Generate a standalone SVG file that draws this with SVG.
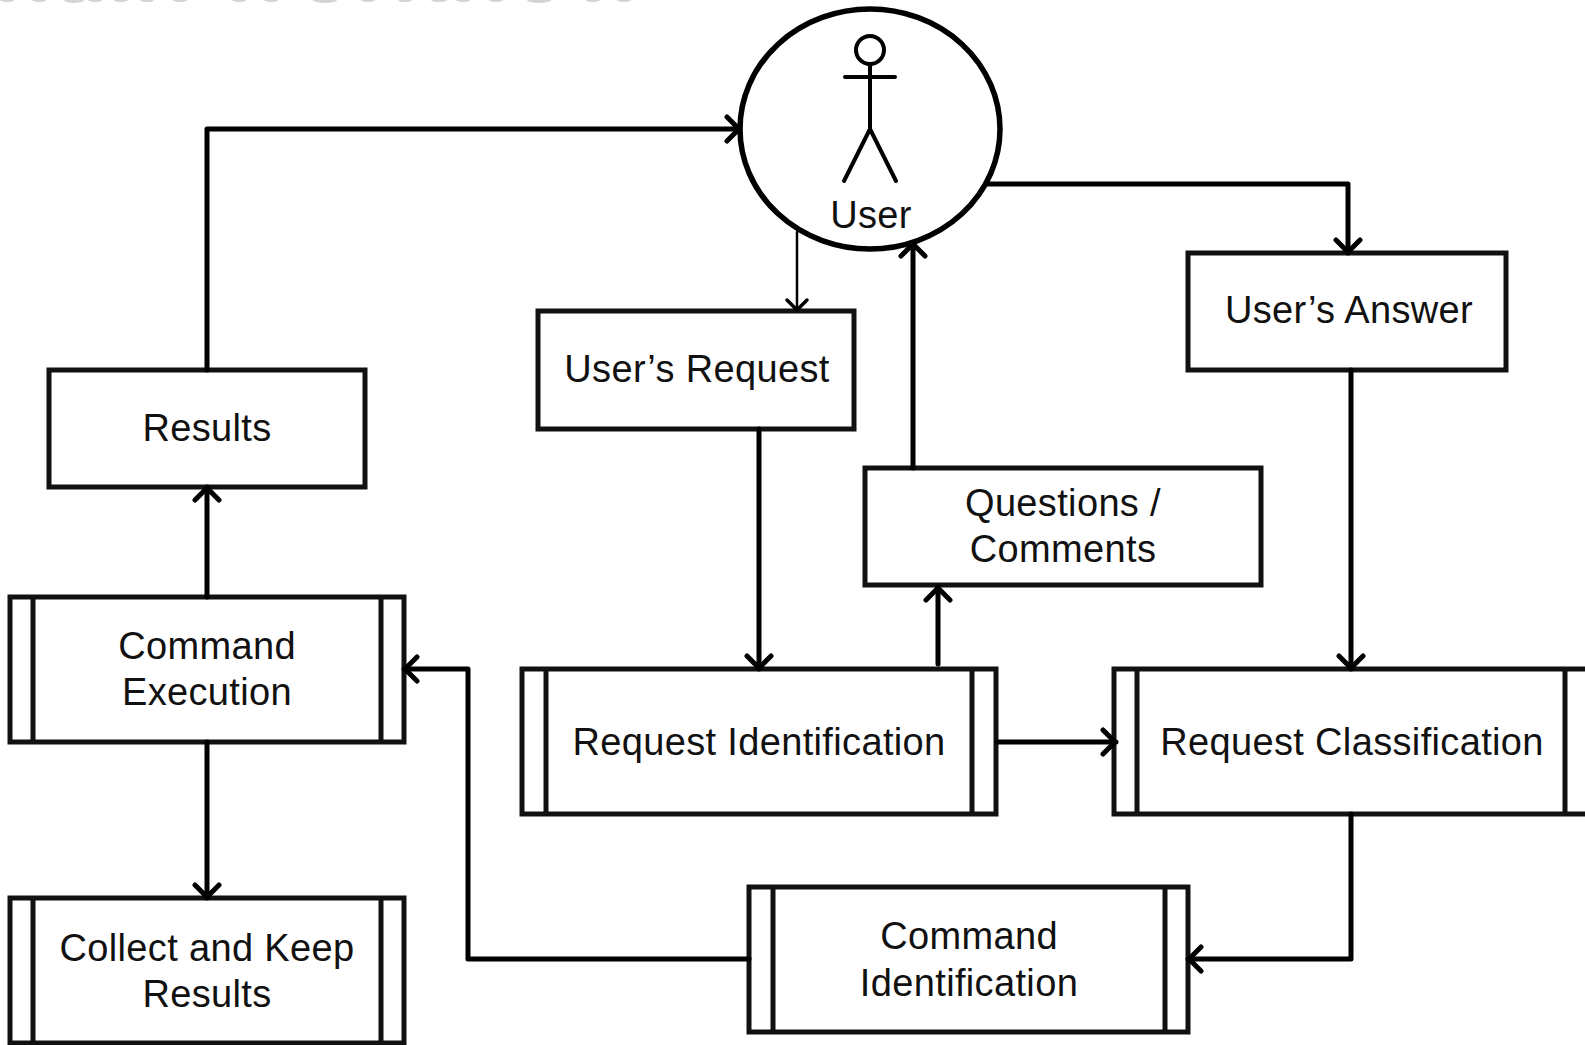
<svg xmlns="http://www.w3.org/2000/svg" width="1585" height="1045" viewBox="0 0 1585 1045">
<style>
.b{fill:#fff;stroke:#111;stroke-width:5}
.l{fill:none;stroke:#111;stroke-width:5}
.c{fill:none;stroke:#000;stroke-width:5;stroke-linejoin:round;stroke-linecap:round}
.s{fill:#d4d4d4}
text{font-family:"Liberation Sans",Arial,sans-serif;font-size:38px;letter-spacing:.35px;fill:#111;text-anchor:middle}
</style>
<defs>
<marker id="a" viewBox="0 0 18 30" refX="16" refY="15" markerWidth="18" markerHeight="30" markerUnits="userSpaceOnUse" orient="auto">
<path d="M3 3L15 15L3 27" fill="none" stroke="#000" stroke-width="5" stroke-linecap="round"/>
</marker>
<marker id="t" viewBox="0 0 18 30" refX="16" refY="15" markerWidth="18" markerHeight="30" markerUnits="userSpaceOnUse" orient="auto">
<path d="M5 5L15 15L5 25" fill="none" stroke="#000" stroke-width="3.5" stroke-linecap="round"/>
</marker>
</defs>
<rect width="1585" height="1045" fill="#fff"/>
<g id="title-remains" class="s">
<ellipse cx="7" cy="0" rx="7" ry="2"/><ellipse cx="39" cy="0" rx="7" ry="2"/><ellipse cx="74" cy="0" rx="10" ry="3"/><ellipse cx="95" cy="0" rx="7" ry="2"/><ellipse cx="121" cy="0" rx="7" ry="2"/><ellipse cx="147" cy="0" rx="7" ry="2"/><ellipse cx="180" cy="0" rx="7" ry="2"/><ellipse cx="239" cy="0" rx="7" ry="2"/><ellipse cx="271" cy="0" rx="7" ry="2"/><ellipse cx="325" cy="0" rx="12" ry="3"/><ellipse cx="368" cy="0" rx="7" ry="2"/><ellipse cx="405" cy="0" rx="7" ry="2"/><ellipse cx="439" cy="0" rx="8" ry="2"/><ellipse cx="463" cy="0" rx="7" ry="2"/><ellipse cx="496" cy="0" rx="7" ry="2"/><ellipse cx="539" cy="0" rx="12" ry="3"/><ellipse cx="593" cy="0" rx="7" ry="2"/><ellipse cx="624" cy="0" rx="7" ry="2"/>
</g>
<g id="user"><ellipse cx="870" cy="129" rx="130" ry="120" fill="#fff" stroke="#000" stroke-width="5.5"/>
<g class="c" style="stroke-width:4"><circle cx="870" cy="50" r="14"/><path d="M870 64V129M845 77H895M870 129L844 181M870 129L896 181"/></g>
<text x="871" y="228">User</text></g>
<g id="results"><rect class="b" x="49" y="370" width="316" height="117"/><text x="207" y="441">Results</text></g>
<g id="users-request"><rect class="b" x="538" y="311" width="316" height="118"/><text x="697" y="382">User’s Request</text></g>
<g id="users-answer"><rect class="b" x="1188" y="253" width="318" height="117"/><text x="1349" y="323">User’s Answer</text></g>
<g id="questions"><rect class="b" x="865" y="468" width="396" height="117"/><text x="1063" y="516">Questions /</text><text x="1063" y="562">Comments</text></g>
<g id="command-execution"><rect class="b" x="10" y="597" width="394" height="145"/><path class="l" d="M33 597V742M381 597V742"/><text x="207" y="659">Command</text><text x="207" y="705">Execution</text></g>
<g id="collect"><rect class="b" x="10" y="898" width="394" height="145"/><path class="l" d="M33 898V1043M381 898V1043"/><text x="207" y="961">Collect and Keep</text><text x="207" y="1007">Results</text></g>
<g id="request-identification"><rect class="b" x="522" y="669" width="474" height="145"/><path class="l" d="M546 669V814M972 669V814"/><text x="759" y="755">Request Identification</text></g>
<g id="request-classification"><rect class="b" x="1114" y="669" width="476" height="145"/><path class="l" d="M1137 669V814M1565 669V814"/><text x="1352" y="755">Request Classification</text></g>
<g id="command-identification"><rect class="b" x="749" y="887" width="439" height="145"/><path class="l" d="M773 887V1032M1165 887V1032"/><text x="969" y="949">Command</text><text x="969" y="996">Identification</text></g>
<g id="connectors">
<path class="c" d="M207 370V129H740" marker-end="url(#a)"/>
<path class="c" d="M797 232V311" style="stroke-width:2.5" marker-end="url(#t)"/>
<path class="c" d="M913 468V243" marker-end="url(#a)"/>
<path class="c" d="M988 184H1348V253" marker-end="url(#a)"/>
<path class="c" d="M759 429V669" marker-end="url(#a)"/>
<path class="c" d="M938 664V587" marker-end="url(#a)"/>
<path class="c" d="M1351 370V669" marker-end="url(#a)"/>
<path class="c" d="M998 742H1116" marker-end="url(#a)"/>
<path class="c" d="M1351 814V959H1188" marker-end="url(#a)"/>
<path class="c" d="M749 959H468V669H404" marker-end="url(#a)"/>
<path class="c" d="M207 597V487" marker-end="url(#a)"/>
<path class="c" d="M207 742V898" marker-end="url(#a)"/>
</g>
</svg>
